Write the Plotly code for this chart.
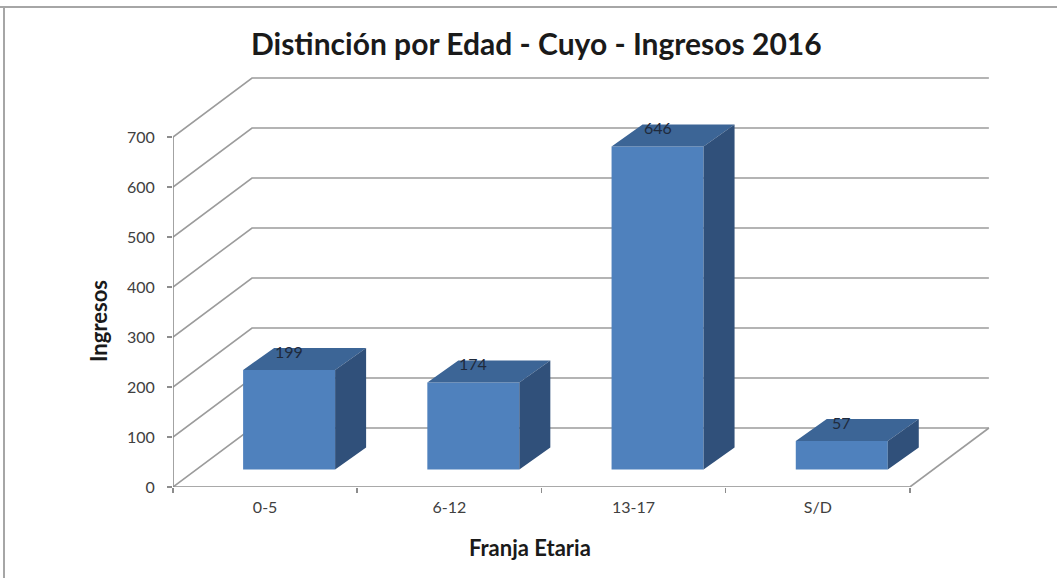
import plotly.graph_objects as go

# ---------------- data ----------------
categories = ["0-5", "6-12", "13-17", "S/D"]
ingresos = [199, 174, 646, 57]
y_ticks = [0, 100, 200, 300, 400, 500, 600, 700]

title_text = "Distinción por Edad - Cuyo - Ingresos 2016"
x_title = "Franja Etaria"
y_title = "Ingresos"

# ---------------- geometry (pixel-based styling) ----------------
W, H = 1057, 578
ML, MR, MT, MB = 173, 55, 72, 91
XMAX = 4.5
YMAX = 830
plot_w = W - ML - MR
plot_h = H - MT - MB
kx = plot_w / XMAX
ky = plot_h / YMAX


def ux(px):
    return px / kx


def uy(px):
    return px / ky


def paper_x(px):
    return (px - ML) / plot_w


def paper_y(py):
    return (H - MB - py) / plot_h


wall_dx, wall_dy = ux(79), uy(59)
bar_shift_x, bar_base = ux(24), uy(17.5)
bar_w = ux(92)
top_dx, top_dy = ux(31), uy(22)
n = len(categories)
x_end = n + wall_dx

FRONT = "#4F81BD"
TOP = "#3C6596"
SIDE = "#30507A"
GRID = "#9C9C9C"
AXIS = "#8C8C8C"
FONT = "Lato, 'Open Sans', sans-serif"
TXT = "#404040"

centers = [i + 0.5 + bar_shift_x for i in range(n)]

fig = go.Figure()

# front faces
fig.add_trace(go.Bar(
    x=centers, y=ingresos, base=bar_base, width=bar_w,
    marker=dict(color=FRONT, line=dict(width=0)),
    hoverinfo="skip", showlegend=False,
))

# top faces and side faces
tx, ty, sx, sy = [], [], [], []
for c, v in zip(centers, ingresos):
    x0, x1 = c - bar_w / 2, c + bar_w / 2
    t = bar_base + v
    tx += [x0, x1, x1 + top_dx, x0 + top_dx, x0, None]
    ty += [t, t, t + top_dy, t + top_dy, t, None]
    sx += [x1, x1, x1 + top_dx, x1 + top_dx, x1, None]
    sy += [bar_base, t, t + top_dy, bar_base + top_dy, bar_base, None]

fig.add_trace(go.Scatter(x=tx, y=ty, fill="toself", fillcolor=TOP, mode="lines",
                         line=dict(width=0, color=TOP), hoverinfo="skip", showlegend=False))
fig.add_trace(go.Scatter(x=sx, y=sy, fill="toself", fillcolor=SIDE, mode="lines",
                         line=dict(width=0, color=SIDE), hoverinfo="skip", showlegend=False))

# ---------------- walls / gridlines (below traces) ----------------
shapes = []
for v in y_ticks:
    shapes.append(dict(
        type="path", xref="x", yref="y", layer="below",
        path=f"M 0,{v} L {wall_dx},{v + wall_dy} L {x_end},{v + wall_dy}",
        line=dict(color=GRID, width=1.6),
    ))
# floor front edge (x axis) and right edge
shapes.append(dict(type="line", xref="x", yref="y", layer="below",
                   x0=0, y0=0, x1=n, y1=0, line=dict(color=AXIS, width=1.6)))
shapes.append(dict(type="line", xref="x", yref="y", layer="below",
                   x0=n, y0=0, x1=x_end, y1=wall_dy, line=dict(color=GRID, width=1.6)))
# y axis line
shapes.append(dict(type="line", xref="x", yref="y", layer="below",
                   x0=0, y0=0, x1=0, y1=max(y_ticks), line=dict(color=AXIS, width=1.6)))
# chart border (top and left)
shapes.append(dict(type="line", xref="paper", yref="paper",
                   x0=paper_x(0), y0=paper_y(7), x1=paper_x(W), y1=paper_y(7),
                   line=dict(color="#A6A6A6", width=2)))
shapes.append(dict(type="line", xref="paper", yref="paper",
                   x0=paper_x(4), y0=paper_y(7), x1=paper_x(4), y1=paper_y(H),
                   line=dict(color="#A6A6A6", width=2)))

# ---------------- annotations ----------------
annotations = []
for c, v in zip(centers, ingresos):
    annotations.append(dict(
        x=c, y=bar_base + v, xref="x", yref="y", text=str(v), showarrow=False,
        yshift=19, xshift=0, font=dict(family=FONT, size=16, color="#1F2A3C"),
    ))
annotations.append(dict(
    x=paper_x(536), y=paper_y(43), xref="paper", yref="paper", text=f"<b>{title_text}</b>",
    showarrow=False, xanchor="center", yanchor="middle",
    font=dict(family=FONT, size=30, color="#1a1a1a"),
))
annotations.append(dict(
    x=paper_x(98), y=paper_y(321), xref="paper", yref="paper", text=f"<b>{y_title}</b>",
    showarrow=False, textangle=-90, xanchor="center", yanchor="middle",
    font=dict(family=FONT, size=22, color="#1a1a1a"),
))
annotations.append(dict(
    x=paper_x(530), y=paper_y(547), xref="paper", yref="paper", text=f"<b>{x_title}</b>",
    showarrow=False, xanchor="center", yanchor="middle",
    font=dict(family=FONT, size=22, color="#1a1a1a"),
))

fig.update_layout(
    width=W, height=H,
    margin=dict(l=ML, r=MR, t=MT, b=MB, pad=0),
    paper_bgcolor="white", plot_bgcolor="white",
    showlegend=False,
    shapes=shapes,
    annotations=annotations,
    xaxis=dict(
        range=[0, XMAX], tickmode="array",
        tickvals=[i + 0.5 for i in range(n)], ticktext=categories,
        ticks="", showgrid=False, zeroline=False, showline=False,
        tickfont=dict(family=FONT, size=16, color=TXT),
        ticklabelstandoff=9,
        minor=dict(tickmode="linear", tick0=0, dtick=1, ticks="outside",
                   ticklen=5, tickcolor=AXIS, tickwidth=1.5, showgrid=False),
        fixedrange=True,
    ),
    yaxis=dict(
        range=[0, YMAX], tickmode="array", tickvals=y_ticks,
        ticks="outside", ticklen=5, tickcolor=AXIS, tickwidth=1.5,
        showgrid=False, zeroline=False, showline=False,
        tickfont=dict(family=FONT, size=16, color=TXT),
        ticklabelstandoff=9,
        fixedrange=True,
    ),
)

fig.write_html(
    "out.html",
    config={"displayModeBar": False, "staticPlot": True},
    post_script="document.body.style.margin='0';document.body.style.overflow='hidden';",
)
